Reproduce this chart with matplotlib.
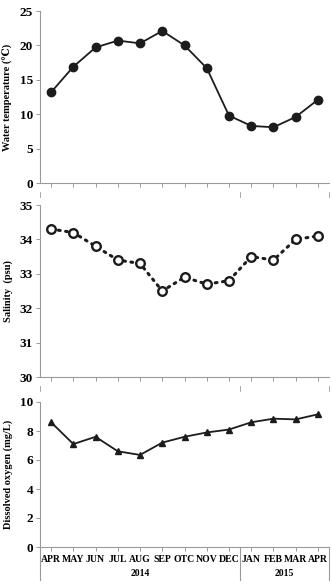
import matplotlib.pyplot as plt
import numpy as np

months = ['APR', 'MAY', 'JUN', 'JUL', 'AUG', 'SEP', 'OTC', 'NOV', 'DEC',
          'JAN', 'FEB', 'MAR', 'APR']
years = ['2014', '2015']
year_bounds = [-0.5, 8.5, 12.5]

water_temp = [13.2, 16.9, 19.7, 20.7, 20.3, 22.1, 20.0, 16.7, 9.8, 8.3, 8.1, 9.6, 12.1]
salinity = [34.3, 34.2, 33.8, 33.4, 33.3, 32.5, 32.9, 32.7, 32.8, 33.5, 33.4, 34.0, 34.1]
dissolved_o2 = [8.6, 7.1, 7.6, 6.6, 6.35, 7.2, 7.6, 7.9, 8.1, 8.6, 8.85, 8.8, 9.15]

plt.rcParams['font.family'] = ['Liberation Serif', 'DejaVu Serif']
plt.rcParams['font.weight'] = 'bold'

fig = plt.figure(figsize=(3.32, 5.86), dpi=100)
W, H = 332, 586

def add_axes(top, bottom):
    return fig.add_axes([40 / W, 1 - bottom / H, 289 / W, (bottom - top) / H])

ax1 = add_axes(11, 183)
ax2 = add_axes(205, 377)
ax3 = add_axes(402, 547)

x = np.arange(len(months))
line_col = '#1c1c1c'
spine_col = '#9a9a9a'

for ax in (ax1, ax2, ax3):
    for s in ('top', 'right'):
        ax.spines[s].set_visible(False)
    for s in ('left', 'bottom'):
        ax.spines[s].set_color(spine_col)
        ax.spines[s].set_linewidth(0.8)
    ax.tick_params(colors=spine_col, labelcolor='black', length=3, width=0.7,
                   labelsize=9.5, pad=2)
    ax.set_xlim(-0.5, 12.5)
    ax.set_xticks(x)

ax1.plot(x, water_temp, '-o', color=line_col, lw=1.3, ms=6, clip_on=False)
ax1.set_ylim(0, 25)
ax1.set_yticks([0, 5, 10, 15, 20, 25])
ax1.set_xticklabels([])
ax1.set_ylabel('Water temperature (℃)', fontsize=7.5, fontweight='bold', labelpad=5)

ax2.plot(x, salinity, color=line_col, lw=2.2, ls=(0, (0.6, 1.8)),
         dash_capstyle='round', clip_on=False)
ax2.plot(x, salinity, 'o', mfc='white', mec=line_col, mew=1.7, ms=6.2, clip_on=False)
ax2.set_ylim(30, 35)
ax2.set_yticks([30, 31, 32, 33, 34, 35])
ax2.set_xticklabels([])
ax2.set_ylabel('Salinity  (psu)', fontsize=7.5, fontweight='bold', labelpad=5)

ax3.plot(x, dissolved_o2, '-^', color=line_col, lw=1.3, ms=5, clip_on=False)
ax3.set_ylim(0, 10)
ax3.set_yticks([0, 2, 4, 6, 8, 10])
ax3.set_xticklabels(months, fontsize=7, fontweight='bold')
ax3.tick_params(axis='x', pad=3)
ax3.set_ylabel('Dissolved oxygen (mg/L)', fontsize=7.5, fontweight='bold', labelpad=5)

for ax in (ax1, ax2, ax3):
    for lab in ax.get_yticklabels():
        lab.set_fontweight('bold')

# year grouping under the bottom axis
trans = ax3.get_xaxis_transform()
for xb in year_bounds:
    ax3.plot([xb, xb], [0, -0.23], color=spine_col, lw=0.8, transform=trans, clip_on=False)
for i, yr in enumerate(years):
    xc = (year_bounds[i] + year_bounds[i + 1]) / 2
    ax3.text(xc, -0.18, yr, transform=trans, ha='center', va='center',
             fontsize=7, fontweight='bold')

# small leftover separator marks under the upper panels
for ax in (ax1, ax2):
    t = ax.get_xaxis_transform()
    for xb in year_bounds:
        ax.plot([xb, xb], [-0.055, -0.08], color=spine_col, lw=0.6, transform=t, clip_on=False)

fig.savefig('out.png', dpi=100)
